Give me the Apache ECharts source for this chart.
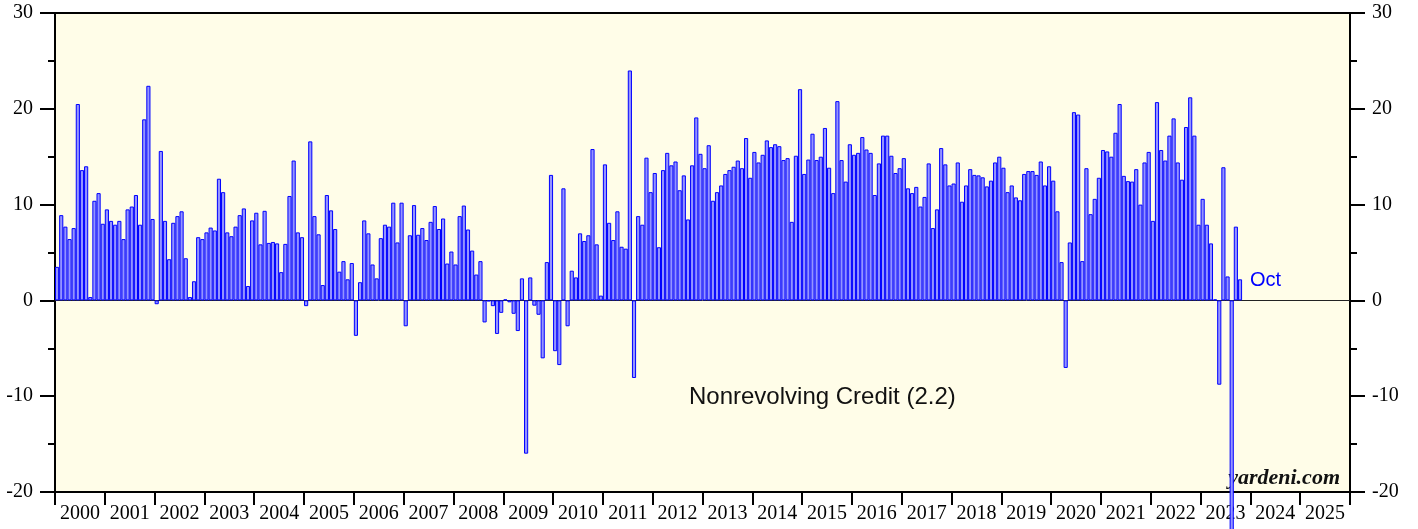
<!DOCTYPE html>
<html>
<head>
<meta charset="utf-8">
<script src="https://cdn.jsdelivr.net/npm/echarts@6/dist/echarts.min.js"></script>
<style>
html,body{margin:0;padding:0;background:#fff;}
#chart{width:1418px;height:529px;}
</style>
</head>
<body>
<div id="chart"></div>
<script>
// Year tick labels (axis spans Jan 2000 - Dec 2025)
const years = ['2000','2001','2002','2003','2004','2005','2006','2007','2008','2009','2010','2011','2012',
  '2013','2014','2015','2016','2017','2018','2019','2020','2021','2022','2023','2024','2025'];
const monthNames = ['Jan','Feb','Mar','Apr','May','Jun','Jul','Aug','Sep','Oct','Nov','Dec'];

// Nonrevolving consumer credit, monthly, Jan 2000 - Oct 2023
const v2000 = [3.5, 8.9, 7.7, 6.4, 7.55, 20.5, 13.6, 14.0, 0.35, 10.4, 11.2, 8.0];
const v2001 = [9.5, 8.3, 7.9, 8.3, 6.4, 9.5, 9.8, 11.0, 7.9, 18.9, 22.4, 8.5];
const v2002 = [-0.4, 15.6, 8.3, 4.3, 8.1, 8.8, 9.3, 4.4, 0.35, 2.0, 6.6, 6.4];
const v2003 = [7.1, 7.6, 7.3, 12.7, 11.3, 7.1, 6.7, 7.7, 8.9, 9.6, 1.5, 8.35];
const v2004 = [9.15, 5.85, 9.35, 6.0, 6.1, 5.95, 2.95, 5.9, 10.9, 14.6, 7.1, 6.6];
const v2005 = [-0.6, 16.6, 8.8, 6.9, 1.6, 11.0, 9.4, 7.45, 3.0, 4.1, 2.2, 3.9];
const v2006 = [-3.7, 1.9, 8.35, 7.0, 3.75, 2.3, 6.5, 7.9, 7.7, 10.2, 6.05, 10.2];
const v2007 = [-2.7, 6.8, 9.95, 6.85, 7.55, 6.3, 8.2, 9.85, 7.45, 8.55, 3.85, 5.1];
const v2008 = [3.75, 8.8, 9.9, 7.4, 5.2, 2.7, 4.1, -2.3, -0.1, -0.6, -3.5, -1.3];
const v2009 = [0.1, -0.2, -1.4, -3.2, 2.3, -16.0, 2.4, -0.55, -1.5, -6.05, 4.0, 13.1];
const v2010 = [-5.3, -6.75, 11.7, -2.7, 3.1, 2.4, 7.0, 6.2, 6.8, 15.8, 5.85, 0.5];
const v2011 = [14.2, 8.1, 6.3, 9.3, 5.6, 5.4, 24.0, -8.1, 8.8, 7.9, 14.9, 11.3];
const v2012 = [13.3, 5.55, 13.6, 15.4, 14.1, 14.5, 11.5, 13.05, 8.45, 14.1, 19.1, 15.3];
const v2013 = [13.8, 16.2, 10.4, 11.3, 12.0, 13.2, 13.6, 13.95, 14.6, 13.8, 16.95, 12.8];
const v2014 = [15.5, 14.4, 15.2, 16.7, 16.0, 16.3, 16.1, 14.65, 14.85, 8.2, 15.1, 22.05];
const v2015 = [13.2, 14.7, 17.4, 14.65, 15.0, 18.0, 13.85, 11.2, 20.8, 14.65, 12.4, 16.3];
const v2016 = [15.2, 15.4, 17.05, 15.75, 15.4, 11.0, 14.3, 17.2, 17.2, 15.1, 13.3, 13.8];
const v2017 = [14.85, 11.7, 11.2, 11.85, 9.8, 10.8, 14.3, 7.55, 9.5, 15.9, 14.2, 12.0];
const v2018 = [12.2, 14.4, 10.3, 12.0, 13.7, 13.1, 13.05, 12.85, 11.9, 12.5, 14.4, 15.0];
const v2019 = [13.85, 11.3, 12.0, 10.75, 10.45, 13.2, 13.5, 13.5, 13.1, 14.5, 12.0, 14.0];
const v2020 = [12.5, 9.3, 4.0, -7.05, 6.05, 19.65, 19.4, 4.1, 13.8, 9.0, 10.6, 12.8];
const v2021 = [15.7, 15.55, 15.0, 17.5, 20.5, 13.0, 12.45, 12.4, 13.7, 10.0, 14.4, 15.5];
const v2022 = [8.3, 20.7, 15.7, 14.6, 17.2, 19.0, 14.4, 12.6, 18.1, 21.2, 17.2, 7.9];
const v2023 = [10.6, 7.9, 5.95, 0.1, -8.8, 13.9, 2.5, -26.0, 7.7, 2.2];

const values = [].concat(v2000, v2001, v2002, v2003, v2004, v2005, v2006, v2007, v2008, v2009,
  v2010, v2011, v2012, v2013, v2014, v2015, v2016, v2017, v2018, v2019, v2020, v2021, v2022, v2023);

const months = [];
years.forEach(function (y) { monthNames.forEach(function (m) { months.push(m + ' ' + y); }); });

const serif = '"Liberation Serif", "DejaVu Serif", serif';
const sans = '"Liberation Sans", Arial, sans-serif';

function yAxisDef(pos) {
  return {
    type: 'value', position: pos, min: -20, max: 30, interval: 10,
    axisLine: { show: true, lineStyle: { color: '#000', width: 2 } },
    axisTick: { show: true, length: 15, lineStyle: { color: '#000', width: 2 } },
    minorTick: { show: true, splitNumber: 2, length: 7, lineStyle: { color: '#000', width: 2 } },
    splitLine: { show: false },
    axisLabel: { margin: 22, fontFamily: serif, fontSize: 20, color: '#000' }
  };
}

const chart = echarts.init(document.getElementById('chart'), null, { renderer: 'canvas' });
chart.setOption({
  animation: false,
  backgroundColor: '#ffffff',
  grid: { left: 55, right: 68, top: 13, bottom: 37, show: true, backgroundColor: '#fffde8', borderColor: '#000', borderWidth: 2 },
  xAxis: [
    {
      type: 'category', data: months, boundaryGap: true,
      axisLine: { show: true, onZero: true, lineStyle: { color: '#222', width: 1 } },
      axisTick: { show: false }, axisLabel: { show: false }, splitLine: { show: false }
    },
    {
      type: 'category', data: years, position: 'bottom', boundaryGap: true,
      axisLine: { show: true, onZero: false, lineStyle: { color: '#000', width: 2 } },
      axisTick: { show: true, length: 13, interval: 0, lineStyle: { color: '#000', width: 2 } },
      axisLabel: { interval: 0, fontFamily: serif, fontSize: 20, color: '#000', margin: 12 },
      splitLine: { show: false }
    }
  ],
  yAxis: [yAxisDef('left'), yAxisDef('right')],
  series: [{
    type: 'bar', data: values, xAxisIndex: 0, yAxisIndex: 0,
    barCategoryGap: '0%', barGap: '0%', clip: false,
    itemStyle: { color: '#9494ff', borderColor: '#0000ff', borderWidth: 1 },
    emphasis: { disabled: true }
  }],
  graphic: [
    { type: 'text', left: 1250, top: 270, style: { text: 'Oct', fill: '#0000ff', font: '20px ' + sans } },
    { type: 'text', left: 689, top: 385, style: { text: 'Nonrevolving Credit (2.2)', fill: '#111', font: '24px ' + sans } },
    { type: 'text', right: 78, top: 467, style: { text: 'yardeni.com', fill: '#111', font: 'italic bold 22px ' + serif } }
  ]
});
</script>
</body>
</html>
